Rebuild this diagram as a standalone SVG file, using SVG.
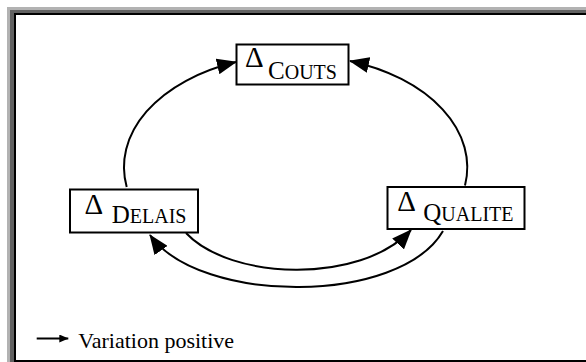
<svg xmlns="http://www.w3.org/2000/svg" width="586" height="362" viewBox="0 0 586 362">
<style>
.box{fill:#fff;stroke:#000;stroke-width:2}
.t{font-family:"Liberation Serif","Times New Roman",serif;fill:#000}
.d{font-size:29px}
.cap{font-size:25px}
.sc{font-size:20px}
.edge{fill:none;stroke:#000;stroke-width:2;marker-end:url(#ah)}
</style>
<defs>
<marker id="ah" markerUnits="userSpaceOnUse" viewBox="0 0 20 16" refX="19" refY="8" markerWidth="20" markerHeight="16" orient="auto">
<path d="M0,0 L20,8 L0,16 z" fill="#000"/>
</marker>
<marker id="ahs" markerUnits="userSpaceOnUse" viewBox="0 0 9 8" refX="9" refY="4" markerWidth="9" markerHeight="8" orient="auto">
<path d="M0,0 L9,4 L0,8 z" fill="#000"/>
</marker>
</defs>
<g id="frame">
<rect x="7" y="7" width="579" height="355" fill="#b2b2b2"/>
<rect x="10" y="10" width="576" height="352" fill="#626262"/>
<rect x="14" y="13" width="572" height="349" fill="#000"/>
<rect x="16" y="15" width="570" height="345" fill="#fff"/>
</g>
<g id="connectors">
<path class="edge" d="M126.7,187 A171,112 0 0 1 236,62"/>
<path class="edge" d="M465,185.5 A171,112 0 0 0 350,61"/>
<path class="edge" d="M186,233 C230,280 360,285 411,230"/>
<path class="edge" d="M443,231 C400,305 200,305 150,235"/>
</g>
<g id="node-couts">
<rect class="box" x="236.5" y="44.5" width="112" height="40"/>
<text class="t d" x="245" y="67">Δ</text>
<text class="t" x="268" y="79"><tspan class="cap">C</tspan><tspan class="sc">OUTS</tspan></text>
</g>
<g id="node-delais">
<rect class="box" x="70" y="189.5" width="128" height="43"/>
<text class="t d" x="84.5" y="214">Δ</text>
<text class="t" x="111.7" y="223.3"><tspan class="cap">D</tspan><tspan class="sc">ELAIS</tspan></text>
</g>
<g id="node-qualite">
<rect class="box" x="387.5" y="187" width="137" height="42"/>
<text class="t d" x="397.2" y="211">Δ</text>
<text class="t" x="423.3" y="220.7"><tspan class="cap">Q</tspan><tspan class="sc">UALITE</tspan></text>
</g>
<g id="legend">
<line x1="36.7" y1="338.5" x2="68.3" y2="338.5" stroke="#000" stroke-width="2" marker-end="url(#ahs)"/>
<text class="t" x="78.3" y="347.5" font-size="22">Variation positive</text>
</g>
</svg>
